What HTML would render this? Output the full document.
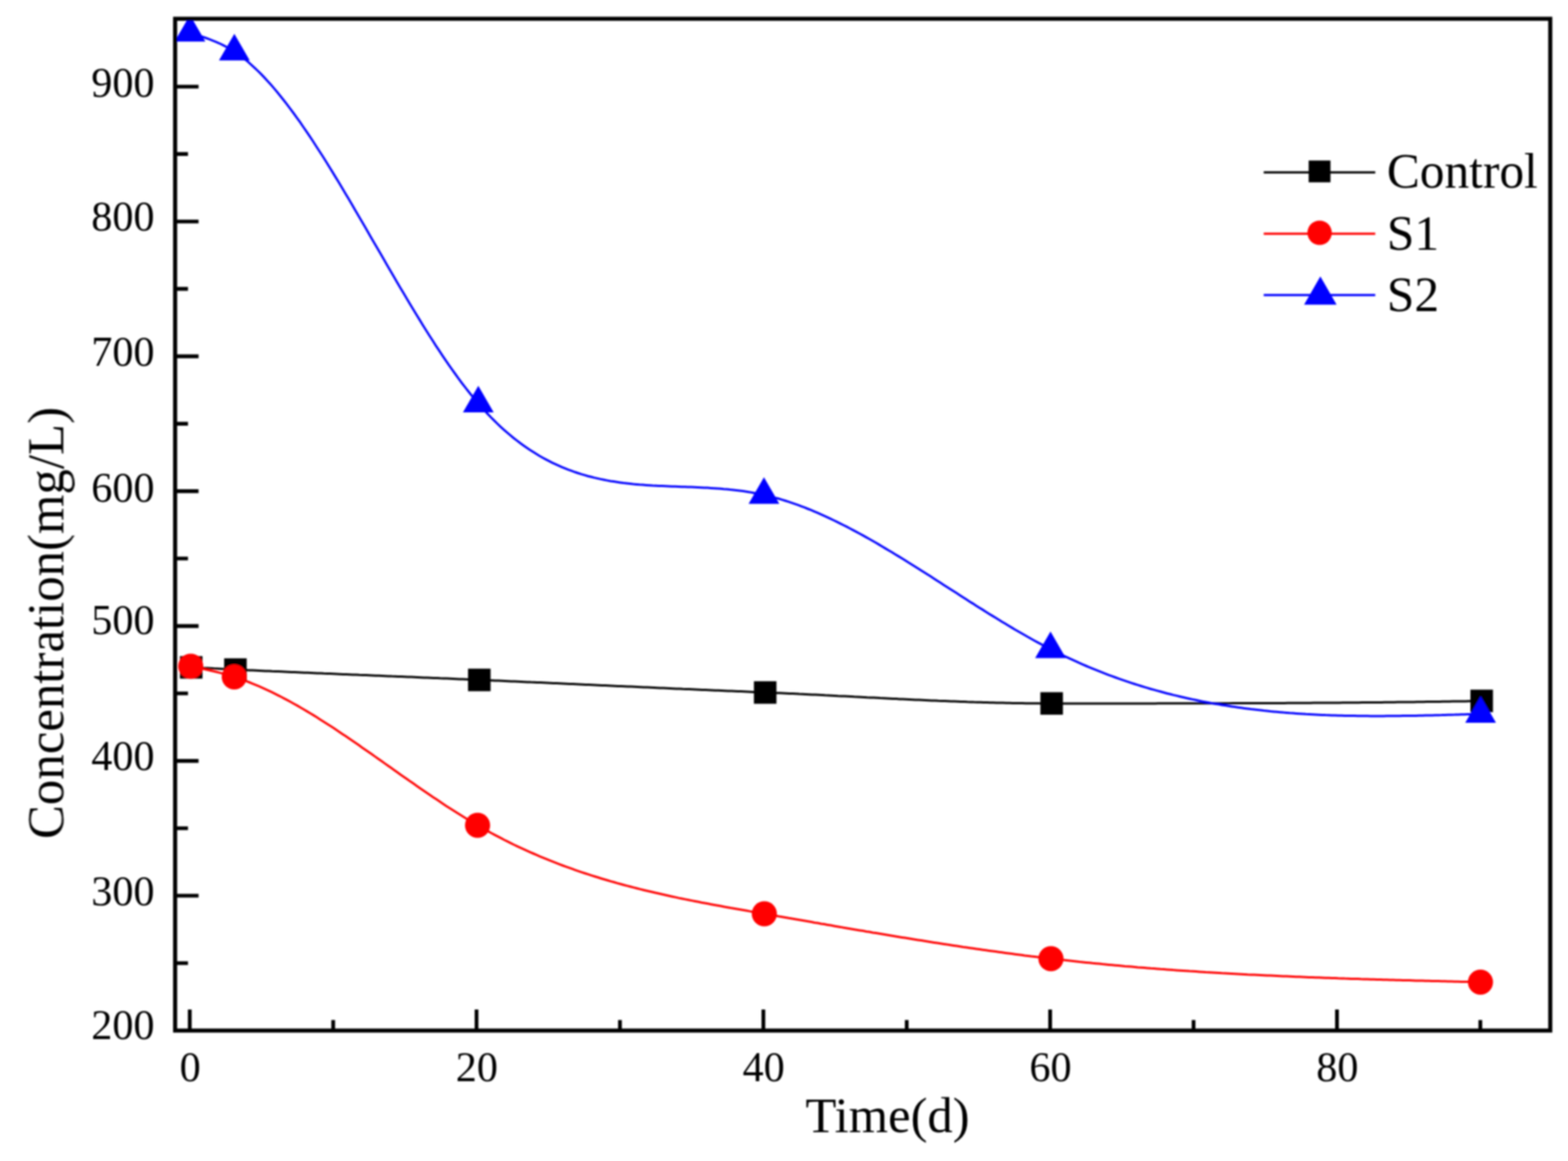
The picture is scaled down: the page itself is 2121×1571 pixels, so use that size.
<!DOCTYPE html><html><head><meta charset="utf-8"><title>Concentration vs Time</title>
<style>html,body{margin:0;padding:0;background:#fff;}svg{display:block;}text{font-family:"Liberation Serif", "Times New Roman", serif;fill:#000;}</style></head><body>
<svg width="2121" height="1571" viewBox="0 0 2121 1571">
<rect x="0" y="0" width="2121" height="1571" fill="#fff"/>
<defs><filter id="soft" x="0" y="0" width="100%" height="100%" filterUnits="userSpaceOnUse"><feGaussianBlur stdDeviation="0.8"/></filter></defs>
<g filter="url(#soft)">
<defs><clipPath id="pc"><rect x="236.9" y="25.4" width="1860.1" height="1369.1"/></clipPath></defs>
<path d="M236.9,1394.5H268.6 M236.9,1212.0H268.6 M236.9,1029.6H268.6 M236.9,847.1H268.6 M236.9,664.6H268.6 M236.9,482.1H268.6 M236.9,299.7H268.6 M236.9,117.2H268.6 M236.9,1303.3H254.3 M236.9,1120.8H254.3 M236.9,938.3H254.3 M236.9,755.8H254.3 M236.9,573.4H254.3 M236.9,390.9H254.3 M236.9,208.4H254.3 M256.7,1394.5V1366 M644.6,1394.5V1366 M1032.6,1394.5V1366 M1420.5,1394.5V1366 M1808.5,1394.5V1366 M450.7,1394.5V1380.2 M838.6,1394.5V1380.2 M1226.5,1394.5V1380.2 M1614.5,1394.5V1380.2 M2002.4,1394.5V1380.2" stroke="#000" stroke-width="5.1" fill="none"/>
<text x="209" y="1406.2" font-size="57" text-anchor="end">200</text>
<text x="209" y="1225.2" font-size="57" text-anchor="end">300</text>
<text x="209" y="1042.1" font-size="57" text-anchor="end">400</text>
<text x="209" y="858.4" font-size="57" text-anchor="end">500</text>
<text x="209" y="678.7" font-size="57" text-anchor="end">600</text>
<text x="209" y="495.1" font-size="57" text-anchor="end">700</text>
<text x="209" y="311.5" font-size="57" text-anchor="end">800</text>
<text x="209" y="131.4" font-size="57" text-anchor="end">900</text>
<text x="257.2" y="1463.2" font-size="57" text-anchor="middle">0</text>
<text x="645.1" y="1463.2" font-size="57" text-anchor="middle">20</text>
<text x="1033.1" y="1463.2" font-size="57" text-anchor="middle">40</text>
<text x="1421.0" y="1463.2" font-size="57" text-anchor="middle">60</text>
<text x="1809.0" y="1463.2" font-size="57" text-anchor="middle">80</text>
<text x="1200.5" y="1531.9" font-size="68.5" text-anchor="middle">Time(d)</text>
<text transform="translate(85.6,843) rotate(-90)" x="0" y="0" font-size="68.8" text-anchor="middle">Concentration(mg/L)</text>
<g clip-path="url(#pc)" fill="none">
<path d="M258.6,903.0 L263.0,903.2 L267.4,903.4 L271.7,903.7 L276.1,903.9 L280.5,904.1 L284.9,904.3 L289.2,904.6 L293.6,904.8 L298.0,905.0 L302.4,905.2 L306.7,905.4 L311.1,905.6 L315.5,905.9 L319.9,906.1 L324.2,906.3 L328.6,906.5 L333.0,906.7 L337.4,906.9 L341.7,907.1 L346.1,907.3 L350.5,907.5 L354.9,907.7 L359.2,907.9 L363.6,908.1 L368.0,908.3 L372.4,908.4 L376.7,908.6 L381.1,908.8 L385.5,909.0 L389.9,909.2 L394.2,909.4 L398.6,909.6 L403.0,909.8 L407.4,910.0 L411.7,910.2 L416.1,910.3 L420.5,910.5 L424.9,910.7 L429.2,910.9 L433.6,911.1 L438.0,911.3 L442.4,911.4 L446.7,911.6 L451.1,911.8 L455.5,912.0 L459.9,912.2 L464.2,912.4 L468.6,912.5 L473.0,912.7 L477.4,912.9 L481.7,913.1 L486.1,913.3 L490.5,913.4 L494.9,913.6 L499.2,913.8 L503.6,914.0 L508.0,914.2 L512.4,914.3 L516.7,914.5 L521.1,914.7 L525.5,914.9 L529.9,915.1 L534.2,915.2 L538.6,915.4 L543.0,915.6 L547.4,915.8 L551.7,916.0 L556.1,916.1 L560.5,916.3 L564.9,916.5 L569.2,916.7 L573.6,916.9 L578.0,917.0 L582.4,917.2 L586.7,917.4 L591.1,917.6 L595.5,917.8 L599.9,917.9 L604.2,918.1 L608.6,918.3 L613.0,918.5 L617.4,918.7 L621.7,918.9 L626.1,919.0 L630.5,919.2 L634.9,919.4 L639.2,919.6 L643.6,919.8 L648.0,920.0 L652.4,920.2 L656.7,920.4 L661.1,920.6 L665.5,920.7 L669.9,920.9 L674.2,921.1 L678.6,921.3 L683.0,921.5 L687.4,921.7 L691.7,921.9 L696.1,922.1 L700.5,922.3 L704.9,922.5 L709.2,922.7 L713.6,922.9 L718.0,923.1 L722.4,923.2 L726.7,923.4 L731.1,923.6 L735.5,923.8 L739.9,924.0 L744.2,924.2 L748.6,924.4 L753.0,924.6 L757.4,924.8 L761.7,925.0 L766.1,925.2 L770.5,925.4 L774.9,925.6 L779.2,925.8 L783.6,926.0 L788.0,926.2 L792.4,926.4 L796.7,926.6 L801.1,926.8 L805.5,927.0 L809.9,927.2 L814.2,927.4 L818.6,927.6 L823.0,927.8 L827.4,928.0 L831.7,928.2 L836.1,928.4 L840.5,928.5 L844.9,928.7 L849.3,928.9 L853.6,929.1 L858.0,929.3 L862.4,929.5 L866.8,929.7 L871.1,929.9 L875.5,930.1 L879.9,930.3 L884.3,930.5 L888.6,930.7 L893.0,930.9 L897.4,931.1 L901.8,931.3 L906.1,931.5 L910.5,931.7 L914.9,931.9 L919.3,932.1 L923.6,932.3 L928.0,932.4 L932.4,932.6 L936.8,932.8 L941.1,933.0 L945.5,933.2 L949.9,933.4 L954.3,933.6 L958.6,933.8 L963.0,934.0 L967.4,934.2 L971.8,934.3 L976.1,934.5 L980.5,934.7 L984.9,934.9 L989.3,935.1 L993.6,935.3 L998.0,935.5 L1002.4,935.6 L1006.8,935.8 L1011.1,936.0 L1015.5,936.2 L1019.9,936.4 L1024.3,936.6 L1028.6,936.7 L1033.0,936.9 L1037.4,937.1 L1041.8,937.3 L1046.1,937.5 L1050.5,937.7 L1054.9,937.8 L1059.3,938.0 L1063.6,938.2 L1068.0,938.4 L1072.4,938.6 L1076.8,938.8 L1081.1,939.1 L1085.5,939.3 L1089.9,939.5 L1094.3,939.7 L1098.6,939.9 L1103.0,940.1 L1107.4,940.3 L1111.8,940.5 L1116.1,940.8 L1120.5,941.0 L1124.9,941.2 L1129.3,941.4 L1133.6,941.7 L1138.0,941.9 L1142.4,942.1 L1146.8,942.3 L1151.1,942.5 L1155.5,942.8 L1159.9,943.0 L1164.3,943.2 L1168.6,943.4 L1173.0,943.7 L1177.4,943.9 L1181.8,944.1 L1186.1,944.3 L1190.5,944.6 L1194.9,944.8 L1199.3,945.0 L1203.6,945.2 L1208.0,945.4 L1212.4,945.6 L1216.8,945.9 L1221.1,946.1 L1225.5,946.3 L1229.9,946.5 L1234.3,946.7 L1238.6,946.9 L1243.0,947.1 L1247.4,947.3 L1251.8,947.5 L1256.1,947.7 L1260.5,947.9 L1264.9,948.1 L1269.3,948.3 L1273.6,948.4 L1278.0,948.6 L1282.4,948.8 L1286.8,949.0 L1291.1,949.1 L1295.5,949.3 L1299.9,949.5 L1304.3,949.6 L1308.6,949.8 L1313.0,949.9 L1317.4,950.1 L1321.8,950.2 L1326.1,950.3 L1330.5,950.5 L1334.9,950.6 L1339.3,950.7 L1343.6,950.8 L1348.0,950.9 L1352.4,951.0 L1356.8,951.1 L1361.1,951.2 L1365.5,951.3 L1369.9,951.4 L1374.3,951.5 L1378.6,951.5 L1383.0,951.6 L1387.4,951.7 L1391.8,951.7 L1396.1,951.8 L1400.5,951.8 L1404.9,951.8 L1409.3,951.9 L1413.6,951.9 L1418.0,951.9 L1422.4,951.9 L1426.8,951.9 L1431.2,951.9 L1435.5,951.9 L1439.9,951.9 L1444.3,951.9 L1448.7,951.9 L1453.0,951.9 L1457.4,951.9 L1461.8,951.9 L1466.2,951.9 L1470.5,951.9 L1474.9,951.9 L1479.3,951.9 L1483.7,951.9 L1488.0,951.9 L1492.4,951.9 L1496.8,951.9 L1501.2,951.9 L1505.5,951.9 L1509.9,951.9 L1514.3,951.9 L1518.7,951.9 L1523.0,951.9 L1527.4,951.9 L1531.8,951.9 L1536.2,951.9 L1540.5,951.9 L1544.9,951.9 L1549.3,951.9 L1553.7,951.9 L1558.0,951.9 L1562.4,951.9 L1566.8,951.8 L1571.2,951.8 L1575.5,951.8 L1579.9,951.8 L1584.3,951.8 L1588.7,951.8 L1593.0,951.8 L1597.4,951.8 L1601.8,951.8 L1606.2,951.8 L1610.5,951.8 L1614.9,951.8 L1619.3,951.8 L1623.7,951.8 L1628.0,951.8 L1632.4,951.7 L1636.8,951.7 L1641.2,951.7 L1645.5,951.7 L1649.9,951.7 L1654.3,951.7 L1658.7,951.7 L1663.0,951.7 L1667.4,951.6 L1671.8,951.6 L1676.2,951.6 L1680.5,951.6 L1684.9,951.6 L1689.3,951.6 L1693.7,951.6 L1698.0,951.5 L1702.4,951.5 L1706.8,951.5 L1711.2,951.5 L1715.5,951.5 L1719.9,951.4 L1724.3,951.4 L1728.7,951.4 L1733.0,951.4 L1737.4,951.4 L1741.8,951.3 L1746.2,951.3 L1750.5,951.3 L1754.9,951.3 L1759.3,951.2 L1763.7,951.2 L1768.0,951.2 L1772.4,951.2 L1776.8,951.1 L1781.2,951.1 L1785.5,951.1 L1789.9,951.0 L1794.3,951.0 L1798.7,951.0 L1803.0,950.9 L1807.4,950.9 L1811.8,950.9 L1816.2,950.8 L1820.5,950.8 L1824.9,950.8 L1829.3,950.7 L1833.7,950.7 L1838.0,950.7 L1842.4,950.6 L1846.8,950.6 L1851.2,950.5 L1855.5,950.5 L1859.9,950.5 L1864.3,950.4 L1868.7,950.4 L1873.0,950.3 L1877.4,950.3 L1881.8,950.2 L1886.2,950.2 L1890.5,950.1 L1894.9,950.1 L1899.3,950.0 L1903.7,950.0 L1908.0,949.9 L1912.4,949.9 L1916.8,949.8 L1921.2,949.8 L1925.5,949.7 L1929.9,949.6 L1934.3,949.6 L1938.7,949.5 L1943.0,949.5 L1947.4,949.4 L1951.8,949.3 L1956.2,949.3 L1960.5,949.2 L1964.9,949.1 L1969.3,949.1 L1973.7,949.0 L1978.0,948.9 L1982.4,948.9 L1986.8,948.8 L1991.2,948.7 L1995.5,948.7 L1999.9,948.6 L2004.3,948.5" stroke="#000" stroke-width="3.0"/>
<path d="M258.0,901.5 L262.4,902.4 L266.7,903.3 L271.1,904.3 L275.5,905.2 L279.9,906.2 L284.2,907.2 L288.6,908.2 L293.0,909.3 L297.4,910.4 L301.7,911.5 L306.1,912.8 L310.5,914.0 L314.8,915.4 L319.2,916.7 L323.6,918.2 L328.0,919.8 L332.3,921.4 L336.7,923.0 L341.1,924.8 L345.4,926.6 L349.8,928.4 L354.2,930.3 L358.6,932.3 L362.9,934.3 L367.3,936.4 L371.7,938.6 L376.1,940.8 L380.4,943.0 L384.8,945.3 L389.2,947.6 L393.5,950.0 L397.9,952.5 L402.3,954.9 L406.7,957.5 L411.0,960.0 L415.4,962.6 L419.8,965.3 L424.2,967.9 L428.5,970.6 L432.9,973.4 L437.3,976.2 L441.6,979.0 L446.0,981.8 L450.4,984.6 L454.8,987.5 L459.1,990.4 L463.5,993.4 L467.9,996.3 L472.2,999.3 L476.6,1002.3 L481.0,1005.3 L485.4,1008.3 L489.7,1011.4 L494.1,1014.4 L498.5,1017.5 L502.9,1020.5 L507.2,1023.6 L511.6,1026.7 L516.0,1029.8 L520.3,1032.9 L524.7,1036.0 L529.1,1039.1 L533.5,1042.2 L537.8,1045.3 L542.2,1048.4 L546.6,1051.4 L551.0,1054.5 L555.3,1057.6 L559.7,1060.6 L564.1,1063.7 L568.4,1066.7 L572.8,1069.7 L577.2,1072.7 L581.6,1075.7 L585.9,1078.7 L590.3,1081.6 L594.7,1084.6 L599.0,1087.5 L603.4,1090.4 L607.8,1093.2 L612.2,1096.0 L616.5,1098.8 L620.9,1101.6 L625.3,1104.3 L629.7,1107.0 L634.0,1109.7 L638.4,1112.3 L642.8,1114.9 L647.1,1117.5 L651.5,1120.0 L655.9,1122.4 L660.3,1124.9 L664.6,1127.3 L669.0,1129.6 L673.4,1131.9 L677.8,1134.2 L682.1,1136.5 L686.5,1138.7 L690.9,1140.8 L695.2,1143.0 L699.6,1145.1 L704.0,1147.1 L708.4,1149.1 L712.7,1151.1 L717.1,1153.1 L721.5,1155.0 L725.9,1156.9 L730.2,1158.8 L734.6,1160.6 L739.0,1162.4 L743.3,1164.2 L747.7,1165.9 L752.1,1167.6 L756.5,1169.3 L760.8,1171.0 L765.2,1172.6 L769.6,1174.2 L773.9,1175.7 L778.3,1177.3 L782.7,1178.8 L787.1,1180.3 L791.4,1181.7 L795.8,1183.2 L800.2,1184.6 L804.6,1186.0 L808.9,1187.3 L813.3,1188.7 L817.7,1190.0 L822.0,1191.3 L826.4,1192.6 L830.8,1193.8 L835.2,1195.1 L839.5,1196.3 L843.9,1197.5 L848.3,1198.6 L852.7,1199.8 L857.0,1200.9 L861.4,1202.0 L865.8,1203.1 L870.1,1204.2 L874.5,1205.3 L878.9,1206.3 L883.3,1207.3 L887.6,1208.3 L892.0,1209.3 L896.4,1210.3 L900.7,1211.3 L905.1,1212.3 L909.5,1213.2 L913.9,1214.1 L918.2,1215.1 L922.6,1216.0 L927.0,1216.9 L931.4,1217.7 L935.7,1218.6 L940.1,1219.5 L944.5,1220.3 L948.8,1221.2 L953.2,1222.0 L957.6,1222.8 L962.0,1223.7 L966.3,1224.5 L970.7,1225.3 L975.1,1226.1 L979.5,1226.9 L983.8,1227.7 L988.2,1228.5 L992.6,1229.2 L996.9,1230.0 L1001.3,1230.8 L1005.7,1231.6 L1010.1,1232.3 L1014.4,1233.1 L1018.8,1233.9 L1023.2,1234.6 L1027.5,1235.4 L1031.9,1236.2 L1036.3,1236.9 L1040.7,1237.7 L1045.0,1238.4 L1049.4,1239.2 L1053.8,1240.0 L1058.2,1240.7 L1062.5,1241.5 L1066.9,1242.3 L1071.3,1243.0 L1075.6,1243.8 L1080.0,1244.6 L1084.4,1245.3 L1088.8,1246.1 L1093.1,1246.8 L1097.5,1247.6 L1101.9,1248.4 L1106.3,1249.1 L1110.6,1249.9 L1115.0,1250.6 L1119.4,1251.4 L1123.7,1252.1 L1128.1,1252.9 L1132.5,1253.7 L1136.9,1254.4 L1141.2,1255.2 L1145.6,1255.9 L1150.0,1256.7 L1154.3,1257.4 L1158.7,1258.2 L1163.1,1258.9 L1167.5,1259.6 L1171.8,1260.4 L1176.2,1261.1 L1180.6,1261.9 L1185.0,1262.6 L1189.3,1263.3 L1193.7,1264.0 L1198.1,1264.8 L1202.4,1265.5 L1206.8,1266.2 L1211.2,1266.9 L1215.6,1267.7 L1219.9,1268.4 L1224.3,1269.1 L1228.7,1269.8 L1233.1,1270.5 L1237.4,1271.2 L1241.8,1271.9 L1246.2,1272.6 L1250.5,1273.3 L1254.9,1274.0 L1259.3,1274.7 L1263.7,1275.4 L1268.0,1276.0 L1272.4,1276.7 L1276.8,1277.4 L1281.1,1278.1 L1285.5,1278.7 L1289.9,1279.4 L1294.3,1280.1 L1298.6,1280.7 L1303.0,1281.4 L1307.4,1282.0 L1311.8,1282.7 L1316.1,1283.3 L1320.5,1283.9 L1324.9,1284.6 L1329.2,1285.2 L1333.6,1285.8 L1338.0,1286.4 L1342.4,1287.0 L1346.7,1287.6 L1351.1,1288.2 L1355.5,1288.8 L1359.9,1289.4 L1364.2,1290.0 L1368.6,1290.6 L1373.0,1291.2 L1377.3,1291.7 L1381.7,1292.3 L1386.1,1292.9 L1390.5,1293.4 L1394.8,1294.0 L1399.2,1294.5 L1403.6,1295.0 L1407.9,1295.6 L1412.3,1296.1 L1416.7,1296.6 L1421.1,1297.1 L1425.4,1297.6 L1429.8,1298.1 L1434.2,1298.6 L1438.6,1299.1 L1442.9,1299.6 L1447.3,1300.1 L1451.7,1300.6 L1456.0,1301.0 L1460.4,1301.5 L1464.8,1301.9 L1469.2,1302.4 L1473.5,1302.8 L1477.9,1303.3 L1482.3,1303.7 L1486.7,1304.1 L1491.0,1304.6 L1495.4,1305.0 L1499.8,1305.4 L1504.1,1305.8 L1508.5,1306.2 L1512.9,1306.6 L1517.3,1307.0 L1521.6,1307.4 L1526.0,1307.7 L1530.4,1308.1 L1534.7,1308.5 L1539.1,1308.9 L1543.5,1309.2 L1547.9,1309.6 L1552.2,1309.9 L1556.6,1310.3 L1561.0,1310.6 L1565.4,1310.9 L1569.7,1311.3 L1574.1,1311.6 L1578.5,1311.9 L1582.8,1312.2 L1587.2,1312.6 L1591.6,1312.9 L1596.0,1313.2 L1600.3,1313.5 L1604.7,1313.8 L1609.1,1314.1 L1613.5,1314.3 L1617.8,1314.6 L1622.2,1314.9 L1626.6,1315.2 L1630.9,1315.5 L1635.3,1315.7 L1639.7,1316.0 L1644.1,1316.3 L1648.4,1316.5 L1652.8,1316.8 L1657.2,1317.0 L1661.6,1317.3 L1665.9,1317.5 L1670.3,1317.7 L1674.7,1318.0 L1679.0,1318.2 L1683.4,1318.4 L1687.8,1318.7 L1692.2,1318.9 L1696.5,1319.1 L1700.9,1319.3 L1705.3,1319.5 L1709.6,1319.7 L1714.0,1319.9 L1718.4,1320.1 L1722.8,1320.3 L1727.1,1320.5 L1731.5,1320.7 L1735.9,1320.9 L1740.3,1321.1 L1744.6,1321.3 L1749.0,1321.5 L1753.4,1321.7 L1757.7,1321.8 L1762.1,1322.0 L1766.5,1322.2 L1770.9,1322.4 L1775.2,1322.5 L1779.6,1322.7 L1784.0,1322.8 L1788.4,1323.0 L1792.7,1323.2 L1797.1,1323.3 L1801.5,1323.5 L1805.8,1323.6 L1810.2,1323.8 L1814.6,1323.9 L1819.0,1324.1 L1823.3,1324.2 L1827.7,1324.4 L1832.1,1324.5 L1836.4,1324.6 L1840.8,1324.8 L1845.2,1324.9 L1849.6,1325.0 L1853.9,1325.2 L1858.3,1325.3 L1862.7,1325.4 L1867.1,1325.5 L1871.4,1325.7 L1875.8,1325.8 L1880.2,1325.9 L1884.5,1326.0 L1888.9,1326.2 L1893.3,1326.3 L1897.7,1326.4 L1902.0,1326.5 L1906.4,1326.6 L1910.8,1326.7 L1915.2,1326.9 L1919.5,1327.0 L1923.9,1327.1 L1928.3,1327.2 L1932.6,1327.3 L1937.0,1327.4 L1941.4,1327.5 L1945.8,1327.6 L1950.1,1327.7 L1954.5,1327.8 L1958.9,1328.0 L1963.2,1328.1 L1967.6,1328.2 L1972.0,1328.3 L1976.4,1328.4 L1980.7,1328.5 L1985.1,1328.6 L1989.5,1328.7 L1993.9,1328.8 L1998.2,1328.9 L2002.6,1329.0" stroke="#f00" stroke-width="3.0"/>
<path d="M257.0,44.3 L261.4,45.7 L265.8,47.1 L270.1,48.5 L274.5,49.9 L278.9,51.5 L283.3,53.1 L287.6,54.8 L292.0,56.6 L296.4,58.5 L300.8,60.6 L305.1,62.8 L309.5,65.2 L313.9,67.8 L318.3,70.6 L322.6,73.6 L327.0,76.9 L331.4,80.3 L335.8,83.9 L340.1,87.8 L344.5,91.8 L348.9,96.0 L353.3,100.4 L357.6,104.9 L362.0,109.7 L366.4,114.6 L370.8,119.6 L375.1,124.8 L379.5,130.2 L383.9,135.7 L388.3,141.3 L392.6,147.1 L397.0,153.0 L401.4,159.1 L405.8,165.2 L410.1,171.5 L414.5,177.9 L418.9,184.4 L423.3,191.0 L427.6,197.7 L432.0,204.5 L436.4,211.3 L440.8,218.3 L445.1,225.3 L449.5,232.4 L453.9,239.6 L458.3,246.8 L462.6,254.1 L467.0,261.4 L471.4,268.8 L475.8,276.2 L480.1,283.7 L484.5,291.2 L488.9,298.7 L493.3,306.2 L497.6,313.8 L502.0,321.4 L506.4,328.9 L510.8,336.5 L515.2,344.1 L519.5,351.6 L523.9,359.2 L528.3,366.7 L532.7,374.2 L537.0,381.7 L541.4,389.2 L545.8,396.6 L550.2,404.0 L554.5,411.3 L558.9,418.6 L563.3,425.8 L567.7,432.9 L572.0,440.0 L576.4,447.0 L580.8,454.0 L585.2,460.8 L589.5,467.6 L593.9,474.2 L598.3,480.8 L602.7,487.3 L607.0,493.7 L611.4,499.9 L615.8,506.0 L620.2,512.1 L624.5,518.0 L628.9,523.7 L633.3,529.3 L637.7,534.8 L642.0,540.1 L646.4,545.3 L650.8,550.3 L655.2,555.2 L659.5,559.9 L663.9,564.5 L668.3,568.9 L672.7,573.2 L677.0,577.3 L681.4,581.3 L685.8,585.2 L690.2,588.9 L694.5,592.5 L698.9,595.9 L703.3,599.3 L707.7,602.5 L712.0,605.5 L716.4,608.5 L720.8,611.3 L725.2,614.1 L729.5,616.7 L733.9,619.2 L738.3,621.6 L742.7,623.9 L747.0,626.1 L751.4,628.2 L755.8,630.2 L760.2,632.1 L764.6,633.9 L768.9,635.6 L773.3,637.2 L777.7,638.8 L782.1,640.2 L786.4,641.6 L790.8,642.9 L795.2,644.2 L799.6,645.3 L803.9,646.4 L808.3,647.4 L812.7,648.4 L817.1,649.3 L821.4,650.1 L825.8,650.9 L830.2,651.6 L834.6,652.3 L838.9,652.9 L843.3,653.5 L847.7,654.0 L852.1,654.5 L856.4,655.0 L860.8,655.4 L865.2,655.8 L869.6,656.1 L873.9,656.4 L878.3,656.7 L882.7,657.0 L887.1,657.2 L891.4,657.4 L895.8,657.6 L900.2,657.8 L904.6,658.0 L908.9,658.2 L913.3,658.3 L917.7,658.5 L922.1,658.7 L926.4,658.8 L930.8,659.0 L935.2,659.1 L939.6,659.3 L943.9,659.5 L948.3,659.7 L952.7,659.9 L957.1,660.1 L961.4,660.4 L965.8,660.7 L970.2,661.0 L974.6,661.3 L978.9,661.7 L983.3,662.0 L987.7,662.5 L992.1,662.9 L996.4,663.4 L1000.8,664.0 L1005.2,664.6 L1009.6,665.2 L1014.0,665.9 L1018.3,666.7 L1022.7,667.5 L1027.1,668.3 L1031.5,669.3 L1035.8,670.3 L1040.2,671.3 L1044.6,672.4 L1049.0,673.6 L1053.3,674.8 L1057.7,676.1 L1062.1,677.5 L1066.5,678.9 L1070.8,680.3 L1075.2,681.9 L1079.6,683.4 L1084.0,685.1 L1088.3,686.7 L1092.7,688.5 L1097.1,690.2 L1101.5,692.1 L1105.8,693.9 L1110.2,695.9 L1114.6,697.8 L1119.0,699.8 L1123.3,701.9 L1127.7,704.0 L1132.1,706.1 L1136.5,708.3 L1140.8,710.5 L1145.2,712.7 L1149.6,715.0 L1154.0,717.3 L1158.3,719.6 L1162.7,722.0 L1167.1,724.4 L1171.5,726.9 L1175.8,729.3 L1180.2,731.8 L1184.6,734.3 L1189.0,736.9 L1193.3,739.5 L1197.7,742.1 L1202.1,744.7 L1206.5,747.3 L1210.8,750.0 L1215.2,752.6 L1219.6,755.3 L1224.0,758.0 L1228.3,760.8 L1232.7,763.5 L1237.1,766.2 L1241.5,769.0 L1245.8,771.8 L1250.2,774.6 L1254.6,777.3 L1259.0,780.1 L1263.4,782.9 L1267.7,785.8 L1272.1,788.6 L1276.5,791.4 L1280.9,794.2 L1285.2,797.0 L1289.6,799.8 L1294.0,802.6 L1298.4,805.4 L1302.7,808.3 L1307.1,811.1 L1311.5,813.9 L1315.9,816.6 L1320.2,819.4 L1324.6,822.2 L1329.0,824.9 L1333.4,827.7 L1337.7,830.4 L1342.1,833.1 L1346.5,835.8 L1350.9,838.5 L1355.2,841.2 L1359.6,843.8 L1364.0,846.5 L1368.4,849.1 L1372.7,851.7 L1377.1,854.2 L1381.5,856.8 L1385.9,859.3 L1390.2,861.8 L1394.6,864.2 L1399.0,866.7 L1403.4,869.1 L1407.7,871.4 L1412.1,873.8 L1416.5,876.1 L1420.9,878.3 L1425.2,880.6 L1429.6,882.8 L1434.0,884.9 L1438.4,887.0 L1442.7,889.1 L1447.1,891.2 L1451.5,893.2 L1455.9,895.2 L1460.2,897.2 L1464.6,899.1 L1469.0,901.0 L1473.4,902.8 L1477.7,904.6 L1482.1,906.4 L1486.5,908.2 L1490.9,909.9 L1495.2,911.6 L1499.6,913.3 L1504.0,914.9 L1508.4,916.5 L1512.8,918.1 L1517.1,919.6 L1521.5,921.1 L1525.9,922.6 L1530.3,924.1 L1534.6,925.5 L1539.0,926.9 L1543.4,928.2 L1547.8,929.6 L1552.1,930.9 L1556.5,932.2 L1560.9,933.4 L1565.3,934.6 L1569.6,935.8 L1574.0,937.0 L1578.4,938.2 L1582.8,939.3 L1587.1,940.4 L1591.5,941.4 L1595.9,942.5 L1600.3,943.5 L1604.6,944.5 L1609.0,945.5 L1613.4,946.4 L1617.8,947.3 L1622.1,948.2 L1626.5,949.1 L1630.9,950.0 L1635.3,950.8 L1639.6,951.6 L1644.0,952.4 L1648.4,953.1 L1652.8,953.9 L1657.1,954.6 L1661.5,955.3 L1665.9,955.9 L1670.3,956.6 L1674.6,957.2 L1679.0,957.8 L1683.4,958.4 L1687.8,959.0 L1692.1,959.6 L1696.5,960.1 L1700.9,960.6 L1705.3,961.1 L1709.6,961.6 L1714.0,962.0 L1718.4,962.5 L1722.8,962.9 L1727.1,963.3 L1731.5,963.7 L1735.9,964.1 L1740.3,964.4 L1744.6,964.8 L1749.0,965.1 L1753.4,965.4 L1757.8,965.7 L1762.2,966.0 L1766.5,966.3 L1770.9,966.5 L1775.3,966.7 L1779.7,967.0 L1784.0,967.2 L1788.4,967.4 L1792.8,967.6 L1797.2,967.7 L1801.5,967.9 L1805.9,968.0 L1810.3,968.2 L1814.7,968.3 L1819.0,968.4 L1823.4,968.5 L1827.8,968.6 L1832.2,968.6 L1836.5,968.7 L1840.9,968.8 L1845.3,968.8 L1849.7,968.8 L1854.0,968.9 L1858.4,968.9 L1862.8,968.9 L1867.2,968.9 L1871.5,968.9 L1875.9,968.8 L1880.3,968.8 L1884.7,968.8 L1889.0,968.7 L1893.4,968.7 L1897.8,968.6 L1902.2,968.6 L1906.5,968.5 L1910.9,968.4 L1915.3,968.4 L1919.7,968.3 L1924.0,968.2 L1928.4,968.1 L1932.8,968.0 L1937.2,967.9 L1941.5,967.8 L1945.9,967.7 L1950.3,967.6 L1954.7,967.4 L1959.0,967.3 L1963.4,967.2 L1967.8,967.1 L1972.2,966.9 L1976.5,966.8 L1980.9,966.7 L1985.3,966.5 L1989.7,966.4 L1994.0,966.3 L1998.4,966.1 L2002.8,966.0" stroke="#00f" stroke-width="3.0"/>
</g>
<g clip-path="url(#pc)">
<rect x="243.4" y="887.8" width="30.5" height="30.5" fill="#000"/>
<rect x="303.2" y="890.8" width="30.5" height="30.5" fill="#000"/>
<rect x="633.1" y="904.8" width="30.5" height="30.5" fill="#000"/>
<rect x="1019.8" y="921.8" width="30.5" height="30.5" fill="#000"/>
<rect x="1407.3" y="936.6" width="30.5" height="30.5" fill="#000"/>
<rect x="1989.0" y="933.2" width="30.5" height="30.5" fill="#000"/>
<circle cx="258.0" cy="901.5" r="17" fill="#f00"/>
<circle cx="316.9" cy="916.0" r="17" fill="#f00"/>
<circle cx="646.0" cy="1116.8" r="17" fill="#f00"/>
<circle cx="1033.9" cy="1236.5" r="17" fill="#f00"/>
<circle cx="1421.6" cy="1297.2" r="17" fill="#f00"/>
<circle cx="2002.6" cy="1329.0" r="17" fill="#f00"/>
<polygon points="257.0,20.3 236.2,56.3 277.8,56.3" fill="#00f"/>
<polygon points="317.0,45.8 296.2,81.8 337.8,81.8" fill="#00f"/>
<polygon points="647.0,522.0 626.2,558.0 667.8,558.0" fill="#00f"/>
<polygon points="1033.4,645.7 1012.6,681.7 1054.2,681.7" fill="#00f"/>
<polygon points="1421.0,854.4 1400.2,890.4 1441.8,890.4" fill="#00f"/>
<polygon points="2002.8,942.0 1982.0,978.0 2023.6,978.0" fill="#00f"/>
</g>
<rect x="236.9" y="25.4" width="1860.1" height="1369.1" fill="none" stroke="#000" stroke-width="5.5"/>
<path d="M1709.4,233.2H1860.3" stroke="#000" stroke-width="2.9"/>
<path d="M1709.4,316.2H1860.3" stroke="#f00" stroke-width="2.9"/>
<path d="M1709.4,399.2H1860.3" stroke="#00f" stroke-width="2.9"/>
<rect x="1770.2" y="217.2" width="29.5" height="29.5" fill="#000"/>
<circle cx="1785.0" cy="315.0" r="16.5" fill="#f00"/>
<polygon points="1786.0,374.1 1764.0,412.2 1808.0,412.2" fill="#00f"/>
<text x="1876" y="254.1" font-size="66.8">Control</text>
<text x="1876" y="338" font-size="66.8">S1</text>
<text x="1876" y="421" font-size="66.8">S2</text>
</g>
</svg></body></html>
